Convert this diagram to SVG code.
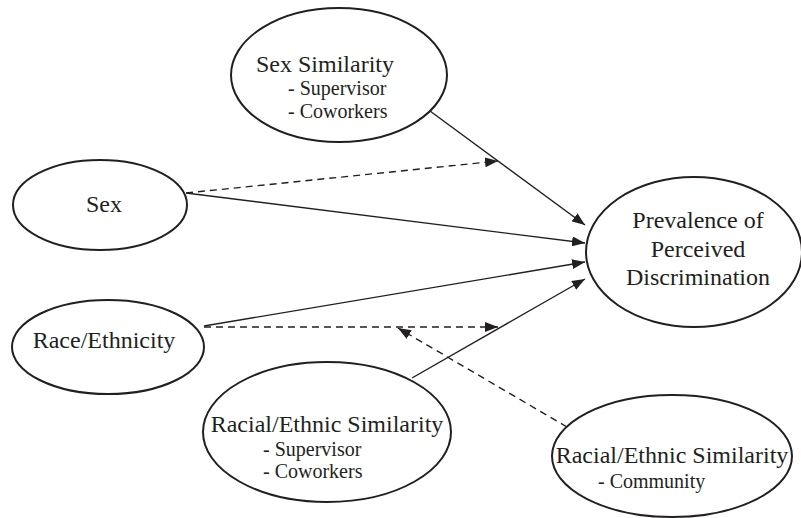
<svg xmlns="http://www.w3.org/2000/svg" width="801" height="518" viewBox="0 0 801 518">
<style>
.node ellipse{fill:#fff;stroke:#231f20;stroke-width:2}
.t{font-family:"Liberation Serif","Times New Roman",serif;fill:#231f20}
.big{font-size:24px}
.small{font-size:20px}
.edge{stroke:#231f20;stroke-width:1.4;fill:none}
.dash{stroke-dasharray:7,5}
</style>
<defs>
<marker id="ah" markerUnits="userSpaceOnUse" markerWidth="13" markerHeight="10" refX="13" refY="5" orient="auto">
<path d="M0,0 L13,5 L0,10 z" fill="#231f20"/>
</marker>
</defs>
<rect width="801" height="518" fill="#fff"/>
<g id="connectors">
<line class="edge" x1="430" y1="111" x2="585" y2="225" marker-end="url(#ah)"/>
<line class="edge" x1="186" y1="193" x2="585" y2="243" marker-end="url(#ah)"/>
<line class="edge dash" x1="186" y1="193" x2="498" y2="161" marker-end="url(#ah)"/>
<line class="edge" x1="204" y1="326" x2="585" y2="262" marker-end="url(#ah)"/>
<line class="edge dash" x1="204" y1="327" x2="498" y2="327" marker-end="url(#ah)"/>
<line class="edge" x1="412" y1="378" x2="585" y2="279" marker-end="url(#ah)"/>
<line class="edge dash" x1="567" y1="427" x2="398" y2="328" marker-end="url(#ah)"/>
</g>
<g id="sexSimilarity" class="node">
<ellipse cx="339" cy="75" rx="108" ry="67"/>
<text class="t big" x="325" y="72" text-anchor="middle">Sex Similarity</text>
<text class="t small" x="288" y="95">- Supervisor</text>
<text class="t small" x="288" y="118">- Coworkers</text>
</g>
<g id="sex" class="node">
<ellipse cx="100" cy="205" rx="87" ry="45"/>
<text class="t big" x="104" y="212" text-anchor="middle">Sex</text>
</g>
<g id="race" class="node">
<ellipse cx="108" cy="347" rx="96" ry="47"/>
<text class="t big" x="104" y="348" text-anchor="middle">Race/Ethnicity</text>
</g>
<g id="racialSimilarity" class="node">
<ellipse cx="327" cy="432" rx="124" ry="70"/>
<text class="t big" x="327" y="432" text-anchor="middle">Racial/Ethnic Similarity</text>
<text class="t small" x="263" y="456">- Supervisor</text>
<text class="t small" x="263" y="478">- Coworkers</text>
</g>
<g id="communitySimilarity" class="node">
<ellipse cx="672" cy="456" rx="120" ry="61"/>
<text class="t big" x="672" y="463" text-anchor="middle">Racial/Ethnic Similarity</text>
<text class="t small" x="598" y="488">- Community</text>
</g>
<g id="prevalence" class="node">
<ellipse cx="694" cy="252" rx="108" ry="75"/>
<text class="t big" x="698" y="228" text-anchor="middle">Prevalence of</text>
<text class="t big" x="698" y="257" text-anchor="middle">Perceived</text>
<text class="t big" x="698" y="285" text-anchor="middle">Discrimination</text>
</g>
</svg>
